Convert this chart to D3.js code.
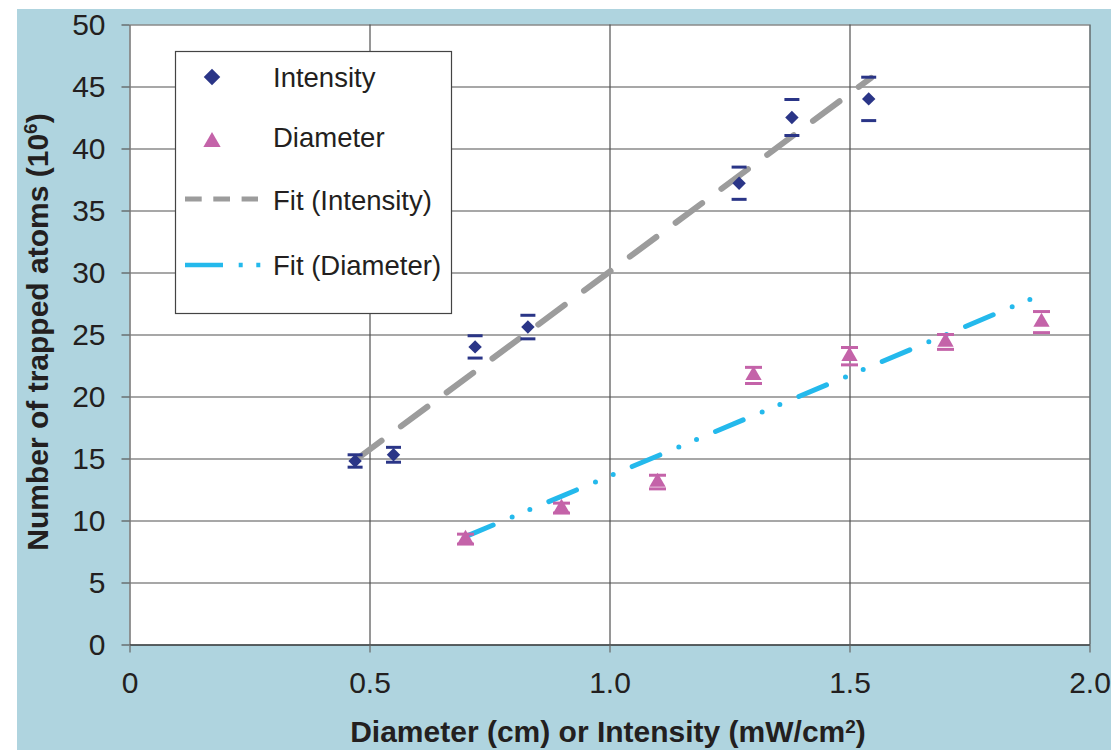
<!DOCTYPE html>
<html>
<head>
<meta charset="utf-8">
<script src="https://cdn.jsdelivr.net/npm/d3@7"></script>
<style>
  body { margin: 0; background: #fff; }
  svg text { font-family: "Liberation Sans", Arial, Helvetica, sans-serif; fill: #231f20; }
</style>
</head>
<body>
<div id="chart"></div>
<script>
// values
const intensityX = [0.47, 0.55, 0.72, 0.83, 1.27, 1.38, 1.54];
const intensityY = [14.8, 15.3, 24.0, 25.6, 37.2, 42.5, 44.0];
const intensityErr = [0.5, 0.6, 0.9, 0.95, 1.3, 1.45, 1.75];

const diameterX = [0.7, 0.9, 1.1, 1.3, 1.5, 1.7, 1.9];
const diameterY = [8.5, 11.0, 13.1, 21.7, 23.25, 24.4, 26.0];
const diameterErr = [0.4, 0.4, 0.55, 0.65, 0.7, 0.6, 0.85];

const intensityFitX = [0.47, 1.545];
const intensityFitY = [14.85, 45.7];
const diameterFitX = [0.7, 1.88];
const diameterFitY = [8.7, 27.9];

const xTicks = [0, 0.5, 1.0, 1.5, 2.0];
const xTickLabels = ["0", "0.5", "1.0", "1.5", "2.0"];
const yTicks = [0, 5, 10, 15, 20, 25, 30, 35, 40, 45, 50];

const width = 1111, height = 750;
const plot = {left: 129.5, right: 1089.5, top: 24.5, bottom: 644.5};

const navy = "#2a3587", pink = "#c463a9", cyan = "#24b9ec", grey = "#9c9c9c";

const svg = d3.select("#chart").append("svg")
  .attr("width", width)
  .attr("height", height);

// blue panel
svg.append("rect")
  .attr("x", 17).attr("y", 9)
  .attr("width", width - 17).attr("height", height - 9)
  .attr("fill", "#afd4df");

svg.append("rect")
  .attr("x", plot.left).attr("y", plot.top)
  .attr("width", plot.right - plot.left).attr("height", plot.bottom - plot.top)
  .attr("fill", "#fff");

const x = d3.scaleLinear().domain([0, 2]).range([plot.left, plot.right]);
const y = d3.scaleLinear().domain([0, 50]).range([plot.bottom, plot.top]);

// grid
svg.append("g")
  .attr("class", "ygrid")
  .attr("transform", "translate(" + plot.left + ",0)")
  .call(d3.axisLeft(y).tickValues(yTicks.slice(1)).tickSize(-(plot.right - plot.left)).tickFormat(""))
  .call(g => g.select(".domain").remove())
  .call(g => g.selectAll("line").attr("stroke", "#505050").attr("stroke-width", 1.2));

svg.append("g")
  .attr("class", "xgrid")
  .attr("transform", "translate(0," + plot.bottom + ")")
  .call(d3.axisBottom(x).tickValues(xTicks.slice(1)).tickSize(-(plot.bottom - plot.top)).tickFormat(""))
  .call(g => g.select(".domain").remove())
  .call(g => g.selectAll("line").attr("stroke", "#505050").attr("stroke-width", 1.2));

// axes
const yAxis = svg.append("g")
  .attr("transform", "translate(" + plot.left + ",0)")
  .call(d3.axisLeft(y).tickValues(yTicks).tickSize(8).tickPadding(16).tickSizeOuter(0));
yAxis.select(".domain").attr("stroke", "#7a7a7a").attr("stroke-width", 1.6);
yAxis.selectAll(".tick line").attr("stroke", "#555").attr("stroke-width", 1.2);
yAxis.selectAll(".tick text").style("font-size", "30px").attr("fill", "#231f20");

const xAxis = svg.append("g")
  .attr("transform", "translate(0," + plot.bottom + ")")
  .call(d3.axisBottom(x).tickValues(xTicks).tickSize(8).tickPadding(19).tickSizeOuter(0)
    .tickFormat((d, i) => xTickLabels[i]));
xAxis.select(".domain").attr("stroke", "#333").attr("stroke-width", 1.4);
xAxis.selectAll(".tick line").attr("stroke", "#666").attr("stroke-width", 1.2);
xAxis.selectAll(".tick text").style("font-size", "30px").attr("fill", "#231f20");

// fit lines
const line = d3.line().x(d => x(d[0])).y(d => y(d[1]));

svg.append("path")
  .datum(intensityFitX.map((v, i) => [v, intensityFitY[i]]))
  .attr("d", line)
  .attr("fill", "none")
  .attr("stroke", grey)
  .attr("stroke-width", 6)
  .attr("stroke-linecap", "round")
  .attr("stroke-dasharray", "33,24");

svg.append("path")
  .datum(diameterFitX.map((v, i) => [v, diameterFitY[i]]))
  .attr("d", line)
  .attr("fill", "none")
  .attr("stroke", cyan)
  .attr("stroke-width", 5)
  .attr("stroke-linecap", "round")
  .attr("stroke-dasharray", "30,20.6,0,19.2,0,20.6");

// error caps + markers
function drawSeries(xs, ys, errs, color, symbol, size, capW) {
  const pts = xs.map((v, i) => ({x: v, y: ys[i], e: errs[i]}));
  const g = svg.append("g");
  g.selectAll(".capTop").data(pts).enter().append("line")
    .attr("x1", d => x(d.x) - capW / 2).attr("x2", d => x(d.x) + capW / 2)
    .attr("y1", d => y(d.y + d.e)).attr("y2", d => y(d.y + d.e))
    .attr("stroke", color).attr("stroke-width", 3);
  g.selectAll(".capBot").data(pts).enter().append("line")
    .attr("x1", d => x(d.x) - capW / 2).attr("x2", d => x(d.x) + capW / 2)
    .attr("y1", d => y(d.y - d.e)).attr("y2", d => y(d.y - d.e))
    .attr("stroke", color).attr("stroke-width", 3);
  g.selectAll(".mark").data(pts).enter().append("path")
    .attr("d", d3.symbol().type(symbol).size(size))
    .attr("transform", d => "translate(" + x(d.x) + "," + y(d.y) + ")" + (symbol === d3.symbolSquare ? " rotate(45)" : ""))
    .attr("fill", color);
}

drawSeries(intensityX, intensityY, intensityErr, navy, d3.symbolSquare, 90, 15);
drawSeries(diameterX, diameterY, diameterErr, pink, d3.symbolTriangle, 115, 17);

// legend
const lg = svg.append("g");
lg.append("rect")
  .attr("x", 175.5).attr("y", 51.5).attr("width", 276).attr("height", 262)
  .attr("fill", "#fff").attr("stroke", "#444").attr("stroke-width", 1.2);

lg.append("path")
  .attr("d", d3.symbol().type(d3.symbolSquare).size(136))
  .attr("transform", "translate(212,77) rotate(45)")
  .attr("fill", navy);
lg.append("path")
  .attr("d", d3.symbol().type(d3.symbolTriangle).size(130))
  .attr("transform", "translate(212,142)")
  .attr("fill", pink);
lg.append("line")
  .attr("x1", 185).attr("x2", 258).attr("y1", 199).attr("y2", 199)
  .attr("stroke", grey).attr("stroke-width", 5).attr("stroke-dasharray", "16.7,11.6");
lg.append("line")
  .attr("x1", 185).attr("x2", 261).attr("y1", 265).attr("y2", 265)
  .attr("stroke", cyan).attr("stroke-width", 4.5).attr("stroke-dasharray", "38,15.7,4,13.6,4,20");

const legendLabels = ["Intensity", "Diameter", "Fit (Intensity)", "Fit (Diameter)"];
const legendBase = [87, 147, 210, 275];
lg.selectAll(".ltext").data(legendLabels).enter().append("text")
  .attr("x", 273).attr("y", (d, i) => legendBase[i])
  .style("font-size", "27.5px")
  .text(d => d);

// axis titles
const xt = svg.append("text")
  .attr("x", 608).attr("y", 742)
  .attr("text-anchor", "middle")
  .style("font-size", "30px").style("font-weight", "bold");
xt.append("tspan").text("Diameter (cm) or Intensity (mW/cm");
xt.append("tspan").attr("dy", -9).style("font-size", "19px").text("2");
xt.append("tspan").attr("dy", 9).text(")");

const yt = svg.append("text")
  .attr("transform", "translate(48,332) rotate(-90)")
  .attr("text-anchor", "middle")
  .style("font-size", "30px").style("font-weight", "bold");
yt.append("tspan").text("Number of trapped atoms (10");
yt.append("tspan").attr("dy", -11).style("font-size", "19px").text("6");
yt.append("tspan").attr("dy", 11).text(")");
</script>
</body>
</html>
